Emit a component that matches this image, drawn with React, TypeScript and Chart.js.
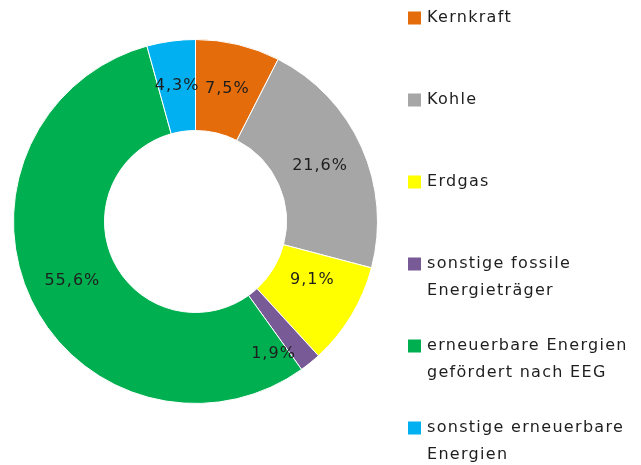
import React, { useEffect, useRef } from "react";
import { Chart, registerables } from "chart.js";

Chart.register(...registerables);

const categories: string[][] = [
  ["Kernkraft"],
  ["Kohle"],
  ["Erdgas"],
  ["sonstige fossile", "Energieträger"],
  ["erneuerbare Energien", "gefördert nach EEG"],
  ["sonstige erneuerbare", "Energien"],
];
const shares: number[] = [7.5, 21.6, 9.1, 1.9, 55.6, 4.3];
const colors: string[] = ["#E46C0A", "#A6A6A6", "#FFFF00", "#775A96", "#00B050", "#00B0F0"];

const FONT = '16px "DejaVu Sans"';
const TEXT_COLOR = "#1e1e1e";

// small manual label nudges (like hand-moved labels in the original)
const labelNudge: Record<number, [number, number]> = { 2: [0, -12], 3: [-8, 26] };

const labelsPlugin = {
  id: "customLabels",
  afterDatasetsDraw(chart: any) {
    const ctx = chart.ctx as CanvasRenderingContext2D;
    const meta = chart.getDatasetMeta(0);
    ctx.save();
    ctx.font = FONT;
    (ctx as any).letterSpacing = "1px";
    ctx.fillStyle = TEXT_COLOR;
    ctx.textAlign = "center";
    ctx.textBaseline = "middle";
    meta.data.forEach((arc: any, i: number) => {
      const p = arc.tooltipPosition();
      const n = labelNudge[i] || [0, 0];
      const txt = shares[i].toFixed(1).replace(".", ",") + "%";
      ctx.fillText(txt, p.x + n[0], p.y + n[1]);
    });

    // legend on the right
    const x0 = 408;
    const box = 13;
    const textX = 427;
    const firstY = 18;
    const itemGap = 82;
    const lineGap = 27;
    ctx.textAlign = "left";
    (ctx as any).letterSpacing = "1.3px";
    categories.forEach((lines, i) => {
      const y = firstY + itemGap * i;
      ctx.fillStyle = colors[i];
      ctx.fillRect(x0, y - box / 2, box, box);
      ctx.fillStyle = TEXT_COLOR;
      lines.forEach((ln, j) => {
        ctx.fillText(ln, textX, y + j * lineGap);
      });
    });
    ctx.restore();
  },
};

export default function App() {
  const ref = useRef<HTMLCanvasElement | null>(null);
  useEffect(() => {
    if (!ref.current) return;
    const chart = new Chart(ref.current, {
      type: "doughnut",
      data: {
        labels: categories.map((c) => c.join(" ")),
        datasets: [
          {
            data: shares,
            backgroundColor: colors,
            borderColor: "#FFFFFF",
            borderWidth: 1,
          },
        ],
      },
      options: {
        responsive: false,
        animation: false,
        cutout: "50%",
        layout: { padding: { left: 13, top: 39, right: 263, bottom: 61 } },
        plugins: {
          legend: { display: false },
          tooltip: { enabled: false },
        },
      },
      plugins: [labelsPlugin],
    });
    return () => chart.destroy();
  }, []);
  return (
    <div style={{ position: "absolute", left: 0, top: 0, width: 641, height: 465, background: "#fff" }}>
      <canvas ref={ref} width={641} height={465} />
    </div>
  );
}
